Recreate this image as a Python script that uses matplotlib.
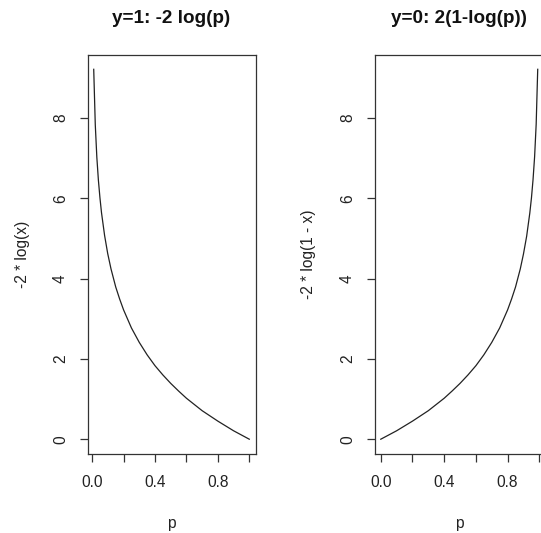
#Imports
import numpy as np
import matplotlib.pyplot as plt

plt.rcParams['font.family'] = ['Liberation Sans', 'DejaVu Sans']

#values: left panel, y=1 loss
p_left = [0.01, 0.0199, 0.0298, 0.0397, 0.0496, 0.0595, 0.0793, 0.0991, 0.12, 0.15, 0.175, 0.2,
          0.25, 0.3, 0.35, 0.4, 0.45, 0.5, 0.55, 0.6, 0.7, 0.8, 0.9, 1.0]
loss_left = [9.21, 7.83, 7.02, 6.45, 6.01, 5.64, 5.07, 4.62, 4.24, 3.79, 3.49, 3.22,
             2.77, 2.41, 2.10, 1.83, 1.60, 1.39, 1.20, 1.02, 0.71, 0.45, 0.21, 0.0]

#right panel, y=0 loss
p_right = [0.0, 0.1, 0.2, 0.3, 0.4, 0.45, 0.5, 0.55, 0.6, 0.65, 0.7, 0.75, 0.8, 0.825,
           0.85, 0.88, 0.9, 0.92, 0.94, 0.9505, 0.9604, 0.9703, 0.9802, 0.99]
loss_right = [0.0, 0.21, 0.45, 0.71, 1.02, 1.20, 1.39, 1.60, 1.83, 2.10, 2.41, 2.77, 3.22, 3.49,
              3.79, 4.24, 4.61, 5.05, 5.63, 6.01, 6.46, 7.03, 7.84, 9.21]

titles = ['y=1: -2 log(p)', 'y=0: 2(1-log(p))']
ylabels = ['-2 * log(x)', '-2 * log(1 - x)']
x_ticks = [0.0, 0.2, 0.4, 0.6, 0.8, 1.0]
x_ticklabels = ['0.0', '', '0.4', '', '0.8', '']
y_ticks = [0, 2, 4, 6, 8]

W, H = 541, 533
fig = plt.figure(figsize=(W / 100, H / 100), dpi=100)

def r_expand(vals):
    # R style 4% padding of the data range
    lo, hi = min(vals), max(vals)
    d = (hi - lo) * 0.04
    return lo - d, hi + d

#pixel boxes of the two plot regions (left, right, top, bottom)
boxes = [(87.5, 255.5, 54.5, 454), (374.5, 544, 54.5, 454)]
ylab_x = [-0.384, -0.392]

panels = [(p_left, loss_left), (p_right, loss_right)]
for i, (xs, ys) in enumerate(panels):
    l, r, t, b = boxes[i]
    ax = fig.add_axes([l / W, (H - b) / H, (r - l) / W, (b - t) / H])
    ax.plot(xs, ys, color='#222222', lw=0.9)
    ax.set_xlim(*r_expand(xs))
    ax.set_ylim(*r_expand(ys))

    for s in ax.spines.values():
        s.set_color('#333333')
        s.set_linewidth(0.9)

    ax.set_xticks(x_ticks)
    ax.set_xticklabels(x_ticklabels)
    ax.set_yticks(y_ticks)
    ax.tick_params(direction='out', length=6, width=0.9, color='#333333', labelsize=11.2,
                   labelcolor='#222222')
    ax.tick_params(axis='x', pad=9)
    ax.tick_params(axis='y', pad=8, labelrotation=90)
    for lab in ax.get_yticklabels():
        lab.set_va('center')

    ax.set_xlabel('p', fontsize=11.2, color='#222222')
    ax.xaxis.set_label_coords(0.5, -0.173)
    ax.xaxis.label.set_va('center')
    ax.set_ylabel(ylabels[i], fontsize=11.2, color='#222222')
    ax.yaxis.set_label_coords(ylab_x[i], 0.5)
    ax.yaxis.label.set_va('center')

    ax.text(0.5, 1.089, titles[i], transform=ax.transAxes, ha='center', va='center',
            fontsize=13.6, fontweight='bold', color='#111111')

fig.savefig('out.png', dpi=100)
